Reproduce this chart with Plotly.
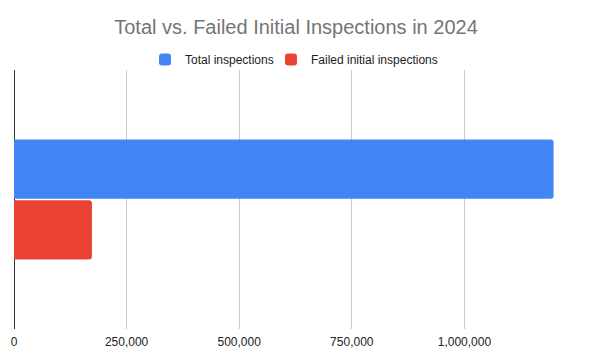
import plotly.graph_objects as go

category = [""]
series_names = ["Total inspections", "Failed initial inspections"]
total_values = [1198000]
failed_values = [173000]
tick_values = [0, 250000, 500000, 750000, 1000000, 1250000]
tick_labels = ["0", "250,000", "500,000", "750,000", "1,000,000", ""]
colors = ["#4285F4", "#EA4335"]

fig = go.Figure()
fig.add_trace(go.Bar(y=category, x=total_values, orientation="h", name=series_names[0],
                     marker=dict(color=colors[0], line=dict(width=0)), legend="legend"))
fig.add_trace(go.Bar(y=category, x=failed_values, orientation="h", name=series_names[1],
                     marker=dict(color=colors[1], line=dict(width=0)), legend="legend2"))

legend_common = dict(orientation="h", xanchor="left", xref="container",
                     y=1 - 59.6 / 361, yanchor="middle", yref="container",
                     font=dict(size=12, color="#222222"), bgcolor="rgba(0,0,0,0)")

fig.update_layout(
    width=592, height=361,
    margin=dict(l=14, r=14.5, t=70, b=31.5, autoexpand=False),
    paper_bgcolor="white", plot_bgcolor="white",
    font=dict(family="Liberation Sans, Arial, sans-serif", color="#222222", size=12),
    title=dict(text="Total vs. Failed Initial Inspections in 2024", x=0.5, xanchor="center",
               y=1 - 26.6 / 361, yanchor="middle", yref="container",
               font=dict(size=20, color="#757575")),
    legend=dict(x=145 / 592, **legend_common),
    legend2=dict(x=271 / 592, **legend_common),
    barmode="group", bargap=0.531, bargroupgap=0.025, barcornerradius=3,
    showlegend=True,
)
fig.update_xaxes(range=[0, 1250000], tickvals=tick_values, ticktext=tick_labels,
                 showgrid=True, gridcolor="#cccccc", gridwidth=1,
                 zeroline=True, zerolinecolor="#333333", zerolinewidth=1,
                 ticks="", ticklabelstandoff=4, tickfont=dict(size=12, color="#222222"),
                 fixedrange=True, automargin=False)
fig.update_yaxes(autorange="reversed", showticklabels=False, showgrid=False, zeroline=False,
                 showline=False, ticks="", automargin=False)

fig.write_html("out.html", config={"displayModeBar": False},
               post_script="document.body.style.margin='0';document.body.style.overflow='hidden';")
